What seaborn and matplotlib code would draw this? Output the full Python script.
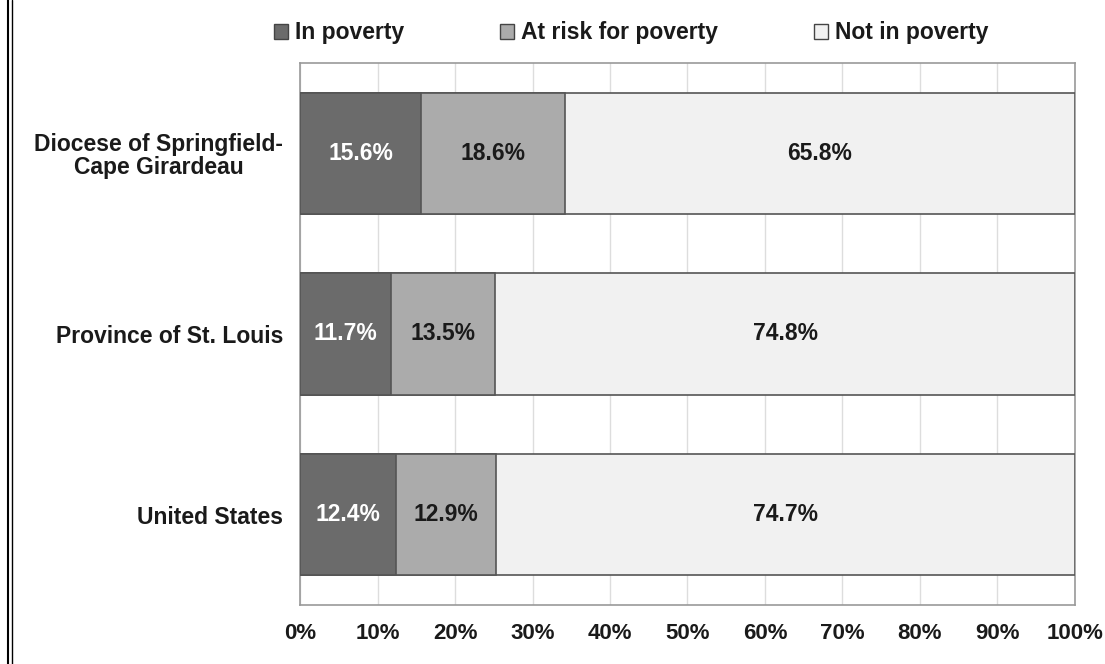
import matplotlib
matplotlib.use("Agg")
import matplotlib.pyplot as plt
import seaborn as sns
import pandas as pd
import numpy as np
from matplotlib.lines import Line2D
from matplotlib.patches import Patch

categories = ["Diocese of Springfield-\nCape Girardeau", "Province of St. Louis", "United States"]
in_poverty = [15.6, 11.7, 12.4]
at_risk = [18.6, 13.5, 12.9]
not_in_poverty = [65.8, 74.8, 74.7]
series_names = ["In poverty", "At risk for poverty", "Not in poverty"]
colors = ["#6b6b6b", "#ababab", "#f1f1f1"]
ticks = [0, 10, 20, 30, 40, 50, 60, 70, 80, 90, 100]
tick_labels = ["0%", "10%", "20%", "30%", "40%", "50%", "60%", "70%", "80%", "90%", "100%"]

sns.set_theme(style="white")
plt.rcParams['font.family'] = ['Liberation Sans', 'DejaVu Sans']
plt.rcParams['font.weight'] = 'bold'

fig = plt.figure(figsize=(11.05, 6.64), dpi=100)
ax = fig.add_axes([300/1105, 1-605/664, 775/1105, 542/664])

df = pd.DataFrame({
    "cat": categories,
    "p": in_poverty,
    "r": at_risk,
    "n": not_in_poverty,
})
df["c1"] = df["p"]
df["c2"] = df["p"] + df["r"]
df["c3"] = df["p"] + df["r"] + df["n"]

for col, color in zip(["c3", "c2", "c1"], colors[::-1]):
    sns.barplot(data=df, y="cat", x=col, orient="h", color=color,
                edgecolor="#555555", linewidth=1.2, width=0.67,
                saturation=1, ax=ax, zorder=3)

# labels
for i in range(len(categories)):
    starts = [0, in_poverty[i], in_poverty[i] + at_risk[i]]
    vals = [in_poverty[i], at_risk[i], not_in_poverty[i]]
    for j, (s, v) in enumerate(zip(starts, vals)):
        ax.text(s + v / 2, i, f"{v:.1f}%", ha="center", va="center",
                fontsize=16.5, fontweight="bold",
                color="white" if j == 0 else "#1a1a1a", zorder=5)

ax.set_xlim(0, 100)
ax.set_ylim(2.5, -0.5)
ax.set_xticks(ticks)
ax.set_xticklabels(tick_labels, fontsize=16, fontweight="bold")
ax.tick_params(axis="x", length=0, pad=13)
ax.tick_params(axis="y", length=0, pad=12)
for lbl in ax.get_yticklabels():
    lbl.set_fontsize(16.5)
    lbl.set_fontweight("bold")
    lbl.set_horizontalalignment("right")
    lbl.set_multialignment("center")
    lbl.set_linespacing(1.0)
    lbl.set_color("#1a1a1a")
for lbl in ax.get_xticklabels():
    lbl.set_color("#1a1a1a")
ax.set_xlabel("")
ax.set_ylabel("")
ax.grid(axis="x", color="#dddddd", linewidth=1, zorder=0)
ax.set_axisbelow(True)
for sp in ax.spines.values():
    sp.set_color("#999999")
    sp.set_linewidth(1.2)

handles = [Patch(facecolor=c, edgecolor="#444444", linewidth=1) for c in colors]
leg = fig.legend(handles, series_names, loc="center", bbox_to_anchor=(631/1105, 1-33/664),
                 ncol=3, frameon=False, handlelength=0.6, handleheight=0.6,
                 handletextpad=0.3, columnspacing=4.2, prop={"weight": "bold", "size": 16.5})
for t in leg.get_texts():
    t.set_color("#1a1a1a")

fig.add_artist(Line2D([8/1105, 8/1105], [0, 1], color="black", linewidth=1.5, transform=fig.transFigure))
fig.add_artist(Line2D([11.5/1105, 11.5/1105], [0, 1], color="black", linewidth=1.0, transform=fig.transFigure))

fig.savefig("out.png", dpi=100)
